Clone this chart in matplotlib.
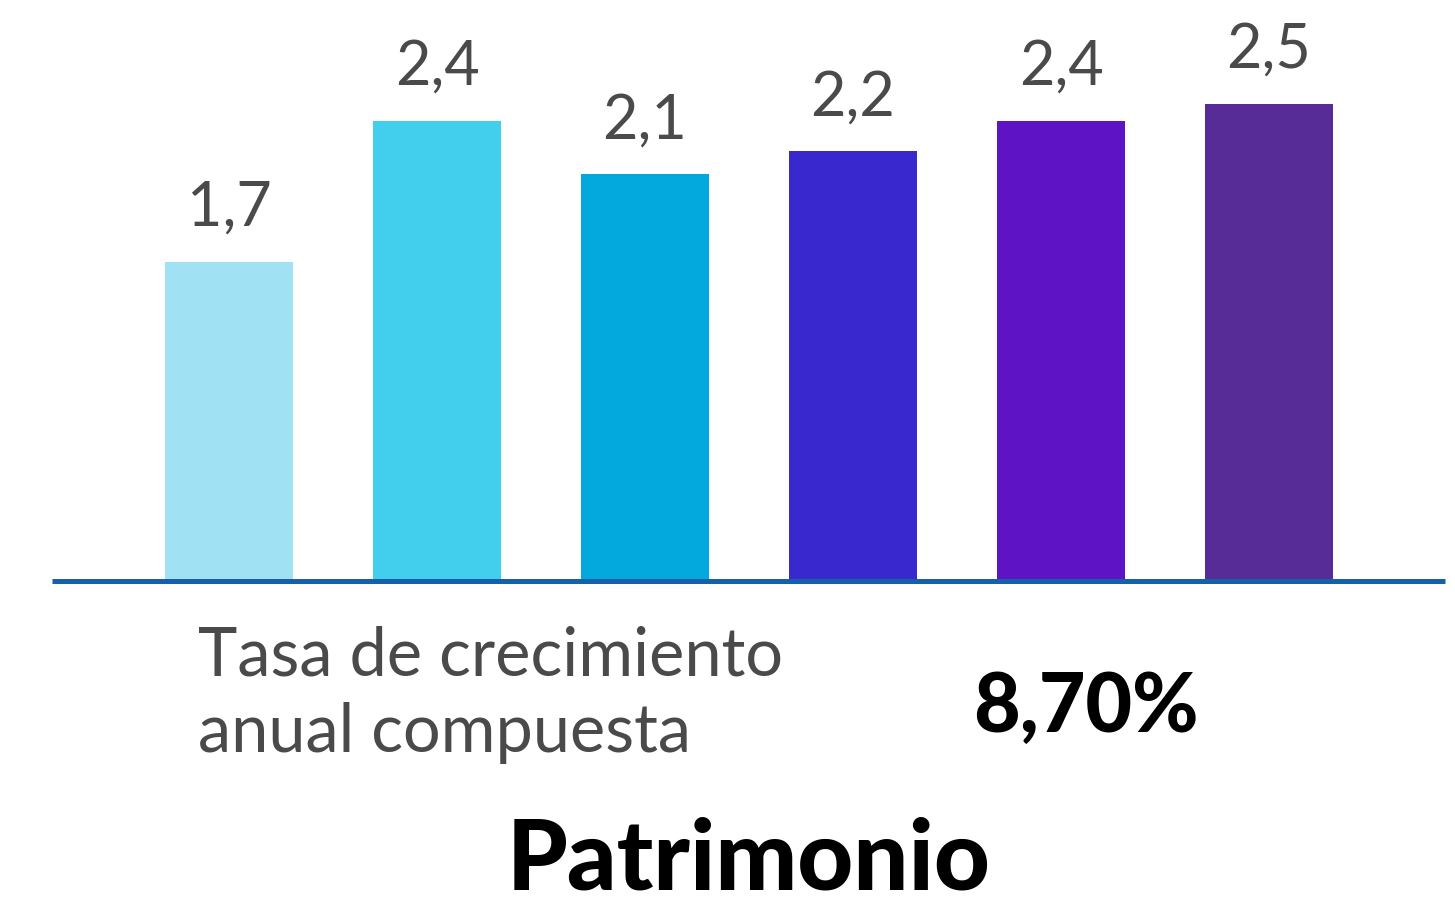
"""
plot.py - Gráfico de barras del patrimonio con tasa de crecimiento.
"""

import matplotlib
matplotlib.use("Agg")
import matplotlib.pyplot as plt

# ── Datos ────────────────────────────────────────────────────
valores = [1.67, 2.41, 2.13, 2.25, 2.41, 2.50]
etiquetas = ["1,7", "2,4", "2,1", "2,2", "2,4", "2,5"]
colores = ["#A0E1F4", "#42CFEE", "#03A8DC", "#3A28CF", "#5E14C4", "#582C96"]
lineas_tasa = ["Tasa de crecimiento", "anual compuesta"]
valor_tasa = "8,70%"
titulo = "Patrimonio"

# ── Figura ───────────────────────────────────────────────────
W, H = 1455, 912
fig = plt.figure(figsize=(W / 100, H / 100), dpi=100)
fig.patch.set_facecolor("#ffffff")

# ejes en coordenadas de píxel: línea base en y=582, de x=52 a x=1445
ax = fig.add_axes([52 / W, (H - 582) / H, (1445 - 52) / W, 582 / H])
x = range(len(valores))
ax.bar(x, valores, width=0.615, color=colores, zorder=2)
ax.set_xlim(-0.851, 5.846)
ax.set_ylim(0, 582 / 191)
ax.axhline(0, color="#1560A8", linewidth=3.6, zorder=3, clip_on=False,
           solid_capstyle="butt")

for xi, v, txt in zip(x, valores, etiquetas):
    ax.annotate(txt, (xi, v), xytext=(0, 37), textcoords="offset pixels",
                ha="center", va="baseline", fontsize=44, color="#4a4a4a",
                family="Lato")

for s in ax.spines.values():
    s.set_visible(False)
ax.set_xticks([])
ax.set_yticks([])
ax.patch.set_alpha(0)

# ── Textos inferiores ────────────────────────────────────────
for linea, base in zip(lineas_tasa, [675, 752]):
    fig.text(198 / W, 1 - base / H, linea, ha="left", va="baseline",
             fontsize=48, color="#4a4a4a", family="Lato")
fig.text(1086 / W, 1 - 732 / H, valor_tasa, ha="center", va="baseline",
         fontsize=58, color="#000000", family="Lato", fontweight="black")
fig.text(749 / W, 1 - 890 / H, titulo, ha="center", va="baseline",
         fontsize=70, color="#000000", family="Lato", fontweight="black")

fig.savefig("out.png", dpi=100, facecolor="#ffffff")
plt.close(fig)
